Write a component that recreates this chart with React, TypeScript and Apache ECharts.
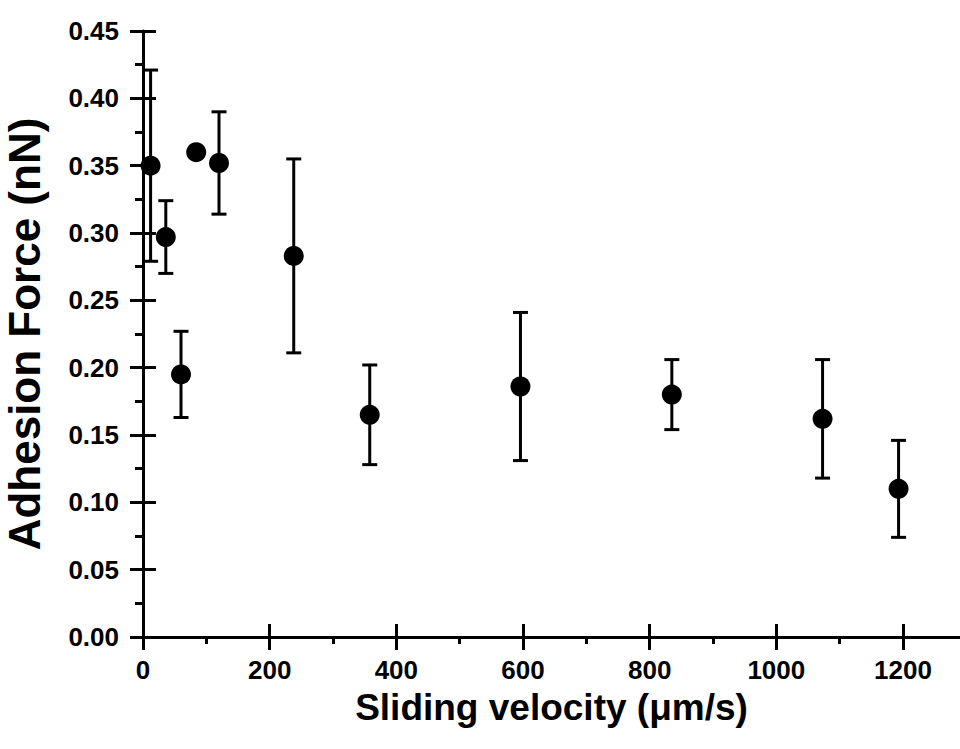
import React, { useEffect, useRef } from "react";
import * as echarts from "echarts";

// Data
const velocity = [12, 36, 60, 84, 120, 238, 358, 596, 835, 1073, 1193];
const force = [0.350, 0.297, 0.195, 0.360, 0.352, 0.283, 0.165, 0.186, 0.180, 0.162, 0.110];
const forceError = [0.071, 0.027, 0.032, 0.003, 0.038, 0.072, 0.037, 0.055, 0.026, 0.044, 0.036];

const xMajorTicks = [0, 200, 400, 600, 800, 1000, 1200];
const xMinorTicks = [100, 300, 500, 700, 900, 1100];
const yMajorTicks = [0, 0.05, 0.1, 0.15, 0.2, 0.25, 0.3, 0.35, 0.4, 0.45];
const yMinorTicks = [0.025, 0.075, 0.125, 0.175, 0.225, 0.275, 0.325, 0.375, 0.425];

const xTitle = "Sliding velocity (μm/s)";
const yTitle = "Adhesion Force (nN)";

const FONT = "'Liberation Sans', Arial, Helvetica, sans-serif";

export default function App() {
  const ref = useRef<HTMLDivElement>(null);

  useEffect(() => {
    if (!ref.current) return;
    const chart = echarts.init(ref.current, null, { renderer: "svg" });

    const black = "#000";
    const xBase = { type: "value", min: 0, max: 1290, position: "bottom", splitLine: { show: false } };
    const yBase = { type: "value", min: 0, max: 0.45, position: "left", splitLine: { show: false } };

    const points = velocity.map((v, i) => [v, force[i]]);
    const bars = velocity.map((v, i) => [v, force[i] - forceError[i], force[i] + forceError[i]]);

    chart.setOption({
      animation: false,
      backgroundColor: "#fff",
      grid: { left: 143, right: 0, top: 31, bottom: 112, containLabel: false, outerBoundsMode: "none" },
      xAxis: [
        {
          ...xBase,
          axisLine: { show: true, lineStyle: { color: black, width: 3 } },
          axisTick: { show: true, inside: false, length: 13, customValues: xMajorTicks, lineStyle: { color: black, width: 3 } },
          axisLabel: {
            show: true,
            customValues: xMajorTicks,
            formatter: (v: number) => String(Math.round(v)),
            fontSize: 26,
            fontWeight: "bold",
            fontFamily: FONT,
            color: black,
            margin: 20,
          },
          name: xTitle,
          nameLocation: "middle",
          nameGap: 52,
          nameTextStyle: { fontSize: 37, fontWeight: "bold", fontFamily: FONT, color: black },
        },
        {
          ...xBase,
          axisLine: { show: false },
          axisTick: { show: true, inside: true, length: 13, customValues: xMajorTicks, lineStyle: { color: black, width: 3 } },
          axisLabel: { show: false, customValues: xMajorTicks },
        },
        {
          ...xBase,
          axisLine: { show: false },
          axisTick: { show: true, inside: false, length: 7, customValues: xMinorTicks, lineStyle: { color: black, width: 3 } },
          axisLabel: { show: false, customValues: xMinorTicks },
        },
      ],
      yAxis: [
        {
          ...yBase,
          axisLine: { show: true, lineStyle: { color: black, width: 3 } },
          axisTick: { show: true, inside: false, length: 13, customValues: yMajorTicks, lineStyle: { color: black, width: 3 } },
          axisLabel: {
            show: true,
            customValues: yMajorTicks,
            formatter: (v: number) => v.toFixed(2),
            fontSize: 26,
            fontWeight: "bold",
            fontFamily: FONT,
            color: black,
            margin: 24,
          },
          name: yTitle,
          nameLocation: "middle",
          nameRotate: 90,
          nameGap: 97,
          nameTextStyle: { fontSize: 44, fontWeight: "bold", fontFamily: FONT, color: black },
        },
        {
          ...yBase,
          axisLine: { show: false },
          axisTick: { show: true, inside: true, length: 13, customValues: yMajorTicks, lineStyle: { color: black, width: 3 } },
          axisLabel: { show: false, customValues: yMajorTicks },
        },
        {
          ...yBase,
          axisLine: { show: false },
          axisTick: { show: true, inside: false, length: 8, customValues: yMinorTicks, lineStyle: { color: black, width: 3 } },
          axisLabel: { show: false, customValues: yMinorTicks },
        },
      ],
      series: [
        {
          type: "custom",
          xAxisIndex: 0,
          yAxisIndex: 0,
          data: bars,
          encode: { x: 0, y: [1, 2] },
          clip: false,
          z: 2,
          renderItem: (params: any, api: any) => {
            const x = api.value(0);
            const lo = api.coord([x, api.value(1)]);
            const hi = api.coord([x, api.value(2)]);
            const half = 7.5;
            const style = { stroke: black, lineWidth: 3, fill: "none" };
            return {
              type: "group",
              children: [
                { type: "line", shape: { x1: hi[0], y1: hi[1], x2: lo[0], y2: lo[1] }, style },
                { type: "line", shape: { x1: hi[0] - half, y1: hi[1], x2: hi[0] + half, y2: hi[1] }, style },
                { type: "line", shape: { x1: lo[0] - half, y1: lo[1], x2: lo[0] + half, y2: lo[1] }, style },
              ],
            };
          },
        },
        {
          type: "scatter",
          xAxisIndex: 0,
          yAxisIndex: 0,
          data: points,
          symbol: "circle",
          symbolSize: 20,
          itemStyle: { color: black, opacity: 1 },
          z: 3,
        },
      ],
    });

    return () => chart.dispose();
  }, []);

  return (
    <div
      ref={ref}
      style={{ position: "fixed", left: 0, top: 0, width: 960, height: 749, background: "#fff" }}
    />
  );
}
